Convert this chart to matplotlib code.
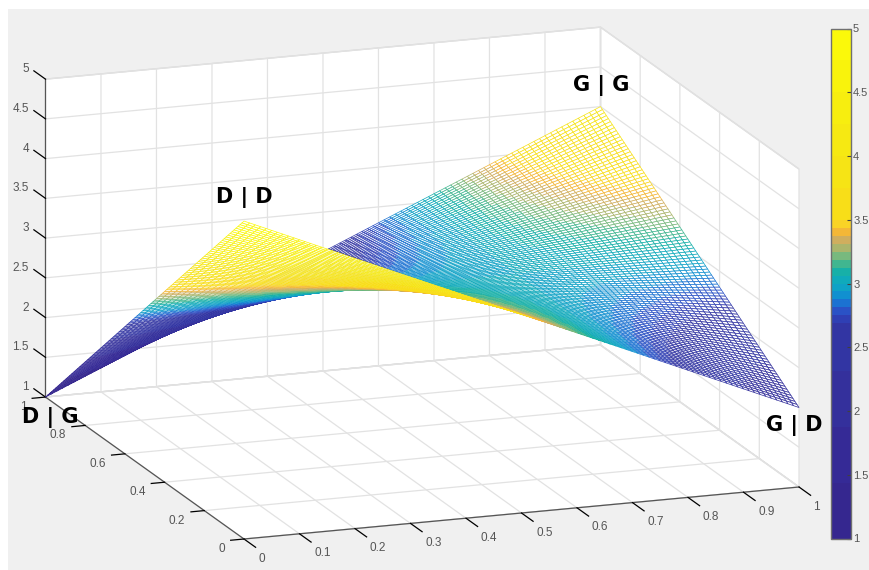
#!/usr/bin/env python3
# -*- coding: utf-8 -*-
"""Mesh of the D|G, D|D, G|G, G|D payoff surface with a colorbar."""
import matplotlib
matplotlib.use('Agg')
import matplotlib.pyplot as plt
import numpy as np
from matplotlib.cm import ScalarMappable
from matplotlib.colors import BoundaryNorm, ListedColormap
from matplotlib.patches import Rectangle
from mpl_toolkits.mplot3d import proj3d
from mpl_toolkits.mplot3d.art3d import Poly3DCollection

W, H = 869, 570

# heights read at the four corners: rows are y = 0, 1 and columns x = 0, 1
corner_z = [[5.0, 2.0],
            [1.0, 4.0]]
# the mesh is the bilinear sheet through those corners, as the saddle shows
mesh_x = np.linspace(0, 1, 101)
mesh_y = np.linspace(0, 1, 101)

x_ticks = [0, 0.1, 0.2, 0.3, 0.4, 0.5, 0.6, 0.7, 0.8, 0.9, 1]
x_labels = ['0', '0.1', '0.2', '0.3', '0.4', '0.5', '0.6', '0.7', '0.8', '0.9', '1']
y_ticks = [0, 0.2, 0.4, 0.6, 0.8, 1]
y_labels = ['0', '0.2', '0.4', '0.6', '0.8', '1']
z_ticks = [1, 1.5, 2, 2.5, 3, 3.5, 4, 4.5, 5]
z_labels = ['1', '1.5', '2', '2.5', '3', '3.5', '4', '4.5', '5']

# colour bands of the bar, bottom to top (64 in all)
band_count = [7, 7, 7, 6,
              1, 1, 1, 1, 1, 1, 1, 1, 1, 1, 1, 1, 1,
              4, 4, 4, 4, 4, 4]
band_color = ['#35278f', '#352a96', '#34309c', '#3235a3',
              '#2f3fb4', '#2a52c6', '#1b72d2', '#1190d0', '#0fa2c6',
              '#10aabb', '#17b0a8', '#40b690', '#78b97e', '#abb56c', '#d0ae5e',
              '#f4b737', '#f9d326',
              '#f8de18', '#f6e415', '#f6e912', '#f7ee0f', '#f9f30c', '#fbf90a']
corner_labels = ['D | G', 'D | D', 'G | G', 'G | D']
corner_label_xy = [(50, 418), (244, 197), (601, 86), (794, 425)]

colors = []
for c, n in zip(band_color, band_count):
    colors += [c] * n
cmap = ListedColormap(colors)
levels = np.linspace(1, 5, len(colors) + 1)
norm = BoundaryNorm(levels, cmap.N)

plt.rcParams['font.family'] = ['Liberation Sans', 'DejaVu Sans']
plt.rcParams['font.size'] = 8.5

fig = plt.figure(figsize=(W / 100, H / 100), dpi=100, facecolor='white')
fig.add_artist(Rectangle((8 / W, 0), 1, 1 - 9 / H, transform=fig.transFigure,
                         facecolor='#f0f0f0', edgecolor='none', zorder=-10))

ax = fig.add_axes([0, 0, 570 / W, 1], projection='3d', proj_type='ortho')
ax.patch.set_alpha(0)
ax.view_init(elev=15, azim=-109.9)
ax.set_box_aspect((590, 583, 329))

X, Y = np.meshgrid(mesh_x, mesh_y)
cz = np.array(corner_z)
Z = (cz[0, 0] * (1 - X) * (1 - Y) + cz[0, 1] * X * (1 - Y)
     + cz[1, 0] * (1 - X) * Y + cz[1, 1] * X * Y)

verts = []
face_z = []
for i in range(len(mesh_y) - 1):
    for j in range(len(mesh_x) - 1):
        idx = [(i, j), (i, j + 1), (i + 1, j + 1), (i + 1, j)]
        verts.append([(X[k], Y[k], Z[k]) for k in idx])
        face_z.append(np.mean([Z[k] for k in idx]))
surf = Poly3DCollection(verts, facecolors='white',
                        edgecolors=cmap(norm(np.array(face_z))),
                        linewidths=0.5, zsort='average')
ax.add_collection3d(surf)

ax.set_xlim(0, 1)
ax.set_ylim(0, 1)
ax.set_zlim(1, 5)
ax.set_xticks(x_ticks, [''] * len(x_ticks))
ax.set_yticks(y_ticks, [''] * len(y_ticks))
ax.set_zticks(z_ticks, [''] * len(z_ticks))

# z ticks run along y in the picture, not along x
ax.zaxis._get_tickdir = lambda pos: 1

for axis in (ax.xaxis, ax.yaxis, ax.zaxis):
    axis.set_pane_color('white')
    axis.pane.set_edgecolor('#d8d8d8')
    axis.line.set_color('#555555')
    axis.line.set_linewidth(0.9)
    axis._axinfo['grid'].update(color='#e2e2e2', linewidth=0.9)
    axis._axinfo['tick']['linewidth'] = {True: 0.9, False: 0.9}
    axis._axinfo['tick']['color'] = '#555555'
ax.xaxis._axinfo['tick'].update(inward_factor=0.73, outward_factor=0.0)
ax.yaxis._axinfo['tick'].update(inward_factor=0.3, outward_factor=0.0)
ax.zaxis._axinfo['tick'].update(inward_factor=0.0, outward_factor=0.73)


def corner_px(x, y, z):
    px, py, _ = proj3d.proj_transform(x, y, z, ax.get_proj())
    return ax.transData.transform((px, py))


# fit the box so its floor edge lands where it is in the picture
fig.canvas.draw()
p0, p1 = corner_px(0, 0, 1), corner_px(1, 0, 1)
side = 570 * np.hypot(555, 52) / np.hypot(*(p1 - p0))
ax.set_position([0, 0, side / W, side / H])
fig.canvas.draw()
p0 = corner_px(0, 0, 1)
ax.set_position([(244 - p0[0]) / W, (H - 539 - p0[1]) / H, side / W, side / H])
fig.canvas.draw()


def tick_text(x, y, z, label, dx, dy, ha):
    # the 3D axis pushes its labels away from the box centre, so they are set here
    px, py = corner_px(x, y, z)
    fig.text((px + dx) / W, (py - dy) / H, label, ha=ha, va='center', color='#555555')


for t, lab in zip(x_ticks, x_labels):
    tick_text(t, 0, 1, lab, 14.5, 19.5, 'left')
for t, lab in zip(y_ticks, y_labels):
    tick_text(0, t, 1, lab, -19, 10, 'right')
for t, lab in zip(z_ticks, z_labels):
    tick_text(0, 1, t, lab, -16.5, -10, 'right')

cax = fig.add_axes([831 / W, (H - 538.5) / H, 20 / W, 510 / H])
cb = fig.colorbar(ScalarMappable(norm=norm, cmap=cmap), cax=cax, ticks=z_ticks,
                  spacing='proportional', drawedges=False)
cb.ax.set_yticklabels(z_labels)
cb.ax.minorticks_off()
cb.outline.set_edgecolor('#707070')
cb.outline.set_linewidth(1.0)
cb.ax.tick_params(direction='in', length=3, width=0.8, color='#404040',
                  labelcolor='#555555', labelsize=8, pad=1.5)

for label, (px, py) in zip(corner_labels, corner_label_xy):
    fig.text(px / W, 1 - py / H, label, family='DejaVu Sans', fontweight='bold',
             fontsize=15, color='black', ha='center', va='center')

fig.savefig('out.png', dpi=100)
